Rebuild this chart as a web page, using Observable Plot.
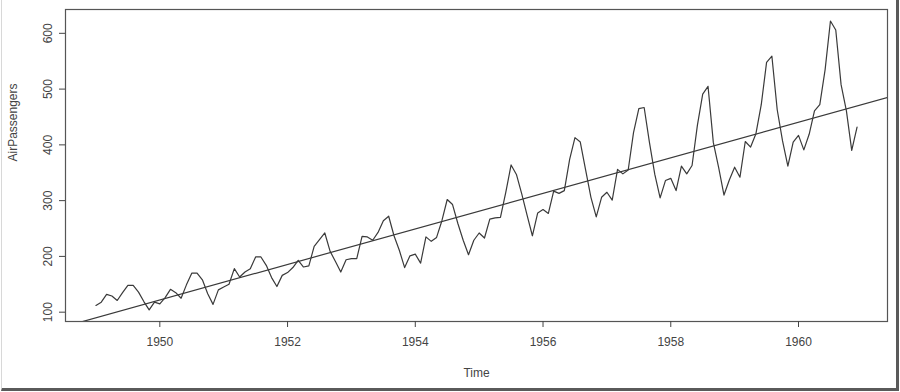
<!DOCTYPE html>
<html>
<head>
<meta charset="utf-8">
<script src="https://cdn.jsdelivr.net/npm/d3@7"></script>
<script src="https://cdn.jsdelivr.net/npm/@observablehq/plot@0.6"></script>
<style>
  html, body { margin: 0; padding: 0; background: #fff; }
  #wrap { position: relative; width: 900px; height: 392px; overflow: hidden; }
  #chart { position: absolute; left: 0; top: 0; }
  #frame { position: absolute; left: 1px; top: 0; width: 898px; height: 391px; box-sizing: border-box;
           border-left: 1px solid #d8d8d8; border-right: 3px solid #5a5a5a; border-bottom: 3px solid #5a5a5a; pointer-events: none; }
</style>
</head>
<body>
<div id="wrap"><div id="chart"></div><div id="frame"></div></div>
<script>
const startYear = 1949;
const passengers = [
  112,118,132,129,121,135,148,148,136,119,104,118,
  115,126,141,135,125,149,170,170,158,133,114,140,
  145,150,178,163,172,178,199,199,184,162,146,166,
  171,180,193,181,183,218,230,242,209,191,172,194,
  196,196,236,235,229,243,264,272,237,211,180,201,
  204,188,235,227,234,264,302,293,259,229,203,229,
  242,233,267,269,270,315,364,347,312,274,237,278,
  284,277,317,313,318,374,413,405,355,306,271,306,
  315,301,356,348,355,422,465,467,404,347,305,336,
  340,318,362,348,363,435,491,505,404,359,310,337,
  360,342,406,396,420,472,548,559,463,407,362,405,
  417,391,419,461,472,535,622,606,508,461,390,432
];
const xTicks = [1950, 1952, 1954, 1956, 1958, 1960];
const yTicks = [100, 200, 300, 400, 500, 600];
const regIntercept = -62055.907;
const regSlope = 31.886;

const series = passengers.map((v, i) => ({t: startYear + i / 12, v}));
const tMin = d3.min(series, d => d.t), tMax = d3.max(series, d => d.t);
const vMin = d3.min(series, d => d.v), vMax = d3.max(series, d => d.v);
const padX = (tMax - tMin) * 0.04, padY = (vMax - vMin) * 0.04;
const xDomain = [tMin - padX, tMax + padX];
const yDomain = [vMin - padY, vMax + padY];
const regLine = xDomain.map(t => ({t, v: regIntercept + regSlope * t}));

const ink = "#3a3a3a";
const chart = Plot.plot({
  width: 900, height: 392,
  marginLeft: 65, marginRight: 13, marginTop: 9, marginBottom: 71,
  style: {fontFamily: "'Liberation Sans', Arial, sans-serif", fontSize: "12px", color: "#444", background: "white"},
  x: {domain: xDomain},
  y: {domain: yDomain},
  marks: [
    Plot.frame({stroke: "#555", strokeWidth: 1.2}),
    Plot.axisX({ticks: xTicks, tickFormat: d => String(d), tickSize: 6, tickPadding: 10, fontSize: 12, label: null}),
    Plot.axisY({ticks: yTicks, tickSize: 6, tickPadding: 8, tickRotate: -90, fontSize: 12, label: null}),
    Plot.text(["Time"], {frameAnchor: "bottom", dy: 55, fontSize: 12}),
    Plot.text(["AirPassengers"], {frameAnchor: "left", dx: -52, dy: -4, rotate: -90, fontSize: 12}),
    Plot.line(regLine, {x: "t", y: "v", stroke: ink, strokeWidth: 1.2, clip: true}),
    Plot.line(series, {x: "t", y: "v", stroke: ink, strokeWidth: 1.2})
  ]
});
document.getElementById("chart").appendChild(chart);
</script>
</body>
</html>
